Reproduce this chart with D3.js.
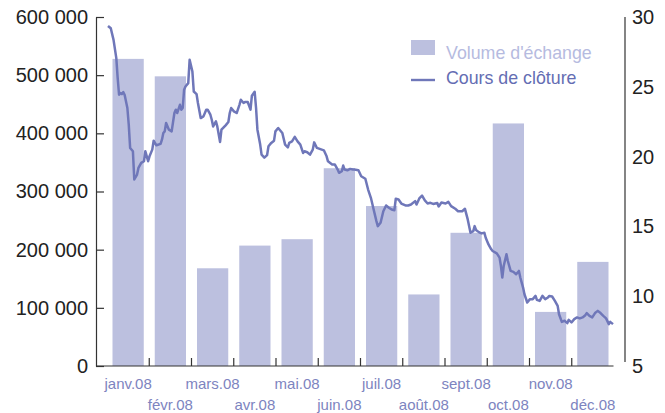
<!DOCTYPE html>
<html>
<head>
<meta charset="utf-8">
<script src="https://d3js.org/d3.v7.min.js"></script>
<style>
  body { margin: 0; background: #fff; }
  text { font-family: "Liberation Sans", Arial, sans-serif; }
</style>
</head>
<body>
<script>

// months + monthly traded volume (bars, left axis)
var months = ["janv.08", "févr.08", "mars.08", "avr.08", "mai.08", "juin.08",
              "juil.08", "août.08", "sept.08", "oct.08", "nov.08", "déc.08"];
var volumes = [528000, 498000, 168000, 207000, 218000, 340000,
               275000, 123000, 229000, 417000, 93000, 179000];

// closing price (line, right axis), day of year 2008
var closeDay = [0, 2, 4, 6, 7, 8, 9, 10, 11, 12, 14, 15, 16, 18, 19, 21, 22, 24, 26, 27,
  29, 30, 32, 33, 35, 38, 39, 40, 41, 42, 44, 46, 48, 49, 50, 52, 53, 54, 55, 56,
  58, 59, 61, 62, 64, 65, 67, 69, 71, 72, 74, 75, 76, 78, 79, 81, 82, 85, 87, 88,
  89, 91, 93, 95, 96, 98, 99, 101, 103, 104, 106, 107, 108, 110, 111, 113, 115, 116, 118, 120,
  121, 123, 126, 128, 130, 131, 133, 135, 137, 139, 141, 142, 144, 146, 148, 149, 151, 153, 156, 158,
  159, 162, 164, 166, 167, 169, 170, 171, 173, 175, 177, 178, 181, 183, 186, 188, 190, 192, 194, 195,
  197, 199, 201, 203, 205, 207, 208, 210, 212, 215, 217, 219, 222, 223, 225, 227, 229, 231, 233, 235,
  238, 239, 241, 244, 246, 248, 251, 253, 256, 258, 260, 262, 264, 265, 266, 268, 270, 272, 273, 275,
  277, 278, 281, 283, 284, 285, 286, 288, 289, 291, 293, 295, 297, 298, 300, 301, 303, 305, 307, 309,
  310, 312, 314, 316, 318, 319, 321, 323, 325, 326, 328, 330, 332, 333, 335, 337, 339, 341, 343, 345,
  346, 348, 350, 352, 354, 356, 358, 360, 362, 363, 365];
var closeValue = [29.36, 29.19, 28.36, 27.05, 25.62, 24.43, 24.55, 24.48, 24.62, 24.43, 23.48, 22.29, 20.62, 20.38, 18.36, 18.71, 19.19, 19.55, 19.67, 20.38,
  19.67, 20.02, 20.5, 21.14, 20.81, 20.91, 21.21, 21.69, 21.81, 22.41, 21.93, 21.81, 23.12, 23.36, 23.12, 23.71, 23.36, 23.48, 24.79, 25.02,
  25.26, 26.93, 26.09, 24.66, 24.48, 23.84, 22.76, 22.88, 23.36, 23.36, 23.0, 22.64, 22.16, 22.52, 22.16, 21.05, 21.93, 22.24, 22.48, 23.12,
  23.48, 23.24, 23.12, 23.71, 24.07, 23.84, 23.91, 23.91, 23.36, 24.36, 24.64, 23.5, 21.93, 20.86, 20.14, 19.93, 20.11, 20.74, 20.98, 21.14,
  21.81, 22.05, 21.69, 20.86, 20.66, 20.98, 21.09, 21.41, 21.09, 20.86, 20.26, 20.38, 20.31, 20.14, 20.5, 21.02, 20.62, 20.55, 20.45, 20.02,
  19.66, 19.43, 19.43, 19.07, 18.84, 18.95, 19.36, 19.07, 19.02, 19.12, 19.07, 19.07, 19.02, 18.59, 18.41, 17.64, 17.05, 16.21, 15.38, 15.02,
  15.26, 16.09, 16.5, 16.34, 16.21, 16.16, 16.98, 16.93, 16.64, 16.5, 16.5, 16.57, 16.81, 16.57, 17.0, 17.21, 16.86, 16.64, 16.69, 16.61,
  16.68, 16.43, 16.71, 16.64, 16.76, 16.45, 16.26, 16.09, 16.09, 16.26, 15.5, 14.55, 14.66, 15.02, 14.74, 14.59, 14.5, 14.55, 14.19, 13.71,
  13.36, 13.24, 13.07, 12.76, 12.16, 11.34, 12.16, 13.0, 12.52, 11.81, 11.74, 11.57, 11.81, 11.34, 10.62, 10.14, 9.55, 9.79, 9.79, 10.02,
  9.74, 9.66, 10.02, 9.79, 9.91, 10.02, 9.98, 9.66, 9.31, 8.71, 8.16, 8.24, 8.07, 8.31, 8.12, 8.36, 8.48, 8.41, 8.48, 8.64,
  8.79, 8.59, 8.48, 8.79, 8.95, 8.79, 8.59, 8.41, 8.0, 8.16, 8.0];

var volTicks = [0, 100000, 200000, 300000, 400000, 500000, 600000];
var priceTicks = [5, 10, 15, 20, 25, 30];
var legendLabels = ["Volume d'échange", "Cours de clôture"];

var w = 665, h = 413;
var plotLeft = 96, plotRight = 625, plotTop = 17, plotBottom = 366;
var bandStart = 107, bandEnd = 614;

var barColor = "#bcc0df";
var lineColor = "#6f77b9";
var axisColor = "#333";

var svg = d3.select("body").append("svg")
  .attr("width", w)
  .attr("height", h);

var x = d3.scaleBand()
  .domain(months)
  .range([bandStart, bandEnd])
  .paddingInner(0.26)
  .paddingOuter(0.13);

var yVol = d3.scaleLinear().domain([0, 600000]).range([plotBottom, plotTop]);
var yPrice = d3.scaleLinear().domain([5, 30]).range([plotBottom, plotTop]);
var xDay = d3.scaleLinear().domain([0, 365]).range([108, 613]);

var fmt = d3.formatLocale({ decimal: ",", thousands: "\u00a0", grouping: [3], currency: ["", " €"] }).format(",d");

// bars
svg.append("g")
  .selectAll("rect")
  .data(volumes)
  .enter().append("rect")
    .attr("x", function(d, i) { return x(months[i]); })
    .attr("y", function(d) { return yVol(d); })
    .attr("width", x.bandwidth())
    .attr("height", function(d) { return yVol(0) - yVol(d); })
    .attr("fill", barColor);

// closing price line
var line = d3.line()
  .x(function(d, i) { return xDay(closeDay[i]); })
  .y(function(d) { return yPrice(d); });

svg.append("path")
  .datum(closeValue)
  .attr("d", line)
  .attr("fill", "none")
  .attr("stroke", lineColor)
  .attr("stroke-width", 2.5)
  .attr("stroke-linejoin", "round");

// left axis
var axL = svg.append("g")
  .attr("transform", "translate(" + plotLeft + ",0)")
  .call(d3.axisLeft(yVol).tickValues(volTicks).tickFormat(fmt)
        .tickSizeInner(-8).tickSizeOuter(0).tickPadding(8));
axL.selectAll("path, line").attr("stroke", axisColor).attr("stroke-width", 1.2);
axL.selectAll("text").attr("font-size", 20).attr("fill", "#222")
  .attr("font-family", "'Liberation Sans', Arial, sans-serif");

// right axis
var axR = svg.append("g")
  .attr("transform", "translate(" + plotRight + ",0)")
  .call(d3.axisRight(yPrice).tickValues(priceTicks).tickSize(0).tickPadding(7));
axR.select(".domain").remove();
axR.append("line")
  .attr("y1", plotTop).attr("y2", plotBottom - 4)
  .attr("stroke", axisColor).attr("stroke-width", 1.2);
axR.selectAll("text").attr("font-size", 20).attr("fill", "#222")
  .attr("font-family", "'Liberation Sans', Arial, sans-serif");

// bottom axis
var axB = svg.append("g");
axB.append("line")
  .attr("x1", plotLeft).attr("x2", bandEnd - 0.5)
  .attr("y1", plotBottom).attr("y2", plotBottom)
  .attr("stroke", axisColor).attr("stroke-width", 1.2);
axB.selectAll(".tick")
  .data(months.slice(1))
  .enter().append("line")
    .attr("x1", function(d) { return x(d) - x.step() * 0.13; })
    .attr("x2", function(d) { return x(d) - x.step() * 0.13; })
    .attr("y1", plotBottom)
    .attr("y2", plotBottom - 8)
    .attr("stroke", axisColor)
    .attr("stroke-width", 1.2);
axB.selectAll(".lbl")
  .data(months)
  .enter().append("text")
    .attr("x", function(d) { return x(d) + x.bandwidth() / 2; })
    .attr("y", function(d, i) { return i % 2 === 0 ? 389 : 410; })
    .attr("text-anchor", "middle")
    .attr("font-size", 15)
    .attr("fill", "#7d84c0")
    .text(function(d) { return d; });

// legend
var lg = svg.append("g").attr("transform", "translate(411,40)");
lg.append("rect").attr("width", 24).attr("height", 15).attr("fill", barColor);
lg.append("line").attr("x1", 0).attr("x2", 24).attr("y1", 40).attr("y2", 40)
  .attr("stroke", lineColor).attr("stroke-width", 2.4);
lg.append("text").attr("x", 35).attr("y", 18.5).attr("font-size", 17.8)
  .attr("fill", "#b6bbdf").text(legendLabels[0]);
lg.append("text").attr("x", 35).attr("y", 43.5).attr("font-size", 17.8)
  .attr("fill", "#646db3").text(legendLabels[1]);

</script>
</body>
</html>
